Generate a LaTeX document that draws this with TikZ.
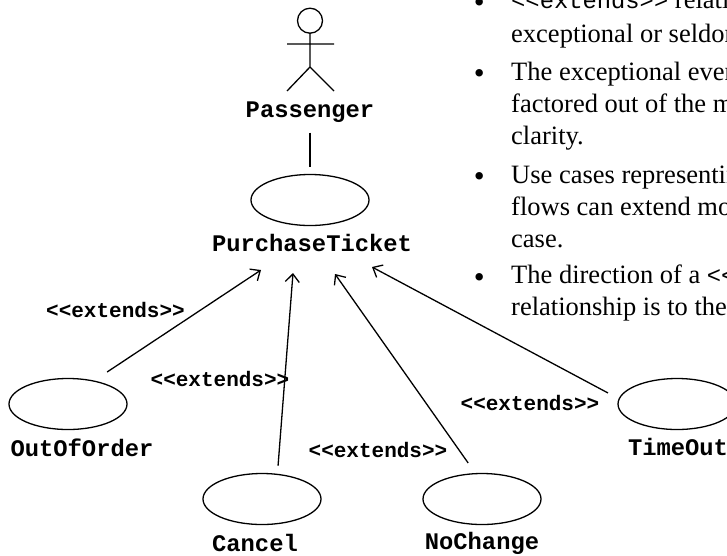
\documentclass[tikz,border=0pt]{standalone}
\usepackage{fontspec}
\setmainfont{Liberation Serif}
\setmonofont{Liberation Mono}
\usetikzlibrary{shapes.geometric, arrows.meta}
\tikzset{
    usecase/.style={ellipse, draw, line width=1.3pt, minimum width=118pt, minimum height=51pt, inner sep=0pt, outer sep=0pt},
    casename/.style={font=\fontsize{23.8}{26}\selectfont\ttfamily\bfseries, inner sep=3pt},
    stereo/.style={font=\fontsize{21}{24}\selectfont\ttfamily\bfseries, inner sep=0pt},
    extendarrow/.style={draw, line width=1.3pt, -{Straight Barb[length=8pt,width=14pt]}},
    bulletline/.style={anchor=base west, inner sep=0pt, font=\fontsize{26.5}{30}\selectfont},
    bulletdot/.style={anchor=base west, inner sep=0pt, font=\fontsize{31}{34}\selectfont},
}
\begin{document}
\begin{tikzpicture}[x=1pt, y=-1pt]
\useasboundingbox (0,0) rectangle (727,555);
\clip (0,0) rectangle (727,555);
% actor
\draw[line width=1.3pt] (310,20.7) circle (12.5);
\draw[line width=1.3pt] (310,33.2) -- (310,67) (287,44) -- (334,44) (287,91) -- (310,67) -- (334,91);
\node[casename] (passenger) at (310,112.5) {Passenger};
% use cases
\node[usecase] (purchase) at (310,200) {};
\node[usecase] (outoforder) at (68,404) {};
\node[usecase] (cancel) at (262,499) {};
\node[usecase] (nochange) at (482,499) {};
\node[usecase] (timeout) at (677,404) {};
\node[casename] (purchaselabel) at (312,243) {PurchaseTicket};
\node[casename] (outlabel) at (82,448) {OutOfOrder};
\node[casename] (cancellabel) at (255,543) {Cancel};
\node[casename] (changelabel) at (482,543) {NoChange};
\node[casename] (timelabel) at (678,447) {TimeOut};
% arrow tips stop short of the label
\coordinate (tipout) at (261,270);
\coordinate (tipcancel) at (293,273);
\coordinate (tipchange) at (335,274);
\coordinate (tiptime) at (372,267);
\draw[line width=1.3pt, shorten <=6.5pt, shorten >=8pt] (passenger.south) -- (purchase.north);
\foreach \from/\ang/\gap/\tip in {outoforder/42/16.3/tipout, cancel/58/8.7/tipcancel, nochange/104/13/tipchange, timeout/175/12.7/tiptime} {
    \draw[extendarrow, shorten <=\gap pt] (\from.\ang) -- (\tip);
}
\node[stereo] (extout) at (115.5,310) {<{}<extends>{}>};
\node[stereo] (extcancel) at (220,379) {<{}<extends>{}>};
\node[stereo] (extchange) at (378,450) {<{}<extends>{}>};
\node[stereo] (exttime) at (530,403) {<{}<extends>{}>};
% bullet list
\foreach \yy in {1,72,175,276} {
    \node[bulletdot] (dot\yy) at (473.6,\yy+11.5) {•};
}
\foreach \yy/\txt in {42/exceptional or seldom, 80/The exceptional event, 112/factored out of the main, 144/clarity., 183/Use cases representing, 215/flows can extend more, 247/case., 315/relationship is to the} {
    \node[bulletline] (line\yy) at (511,\yy) {\txt};
}
\node[bulletline] (line8) at (511,8) {{\fontsize{23.8}{26}\selectfont\ttfamily <{}<extends>{}>} relationships};
\node[bulletline] (line283) at (511,283) {The direction of a {\fontsize{23.8}{26}\selectfont\ttfamily <{}<extends>{}>}};
\end{tikzpicture}
\end{document}
